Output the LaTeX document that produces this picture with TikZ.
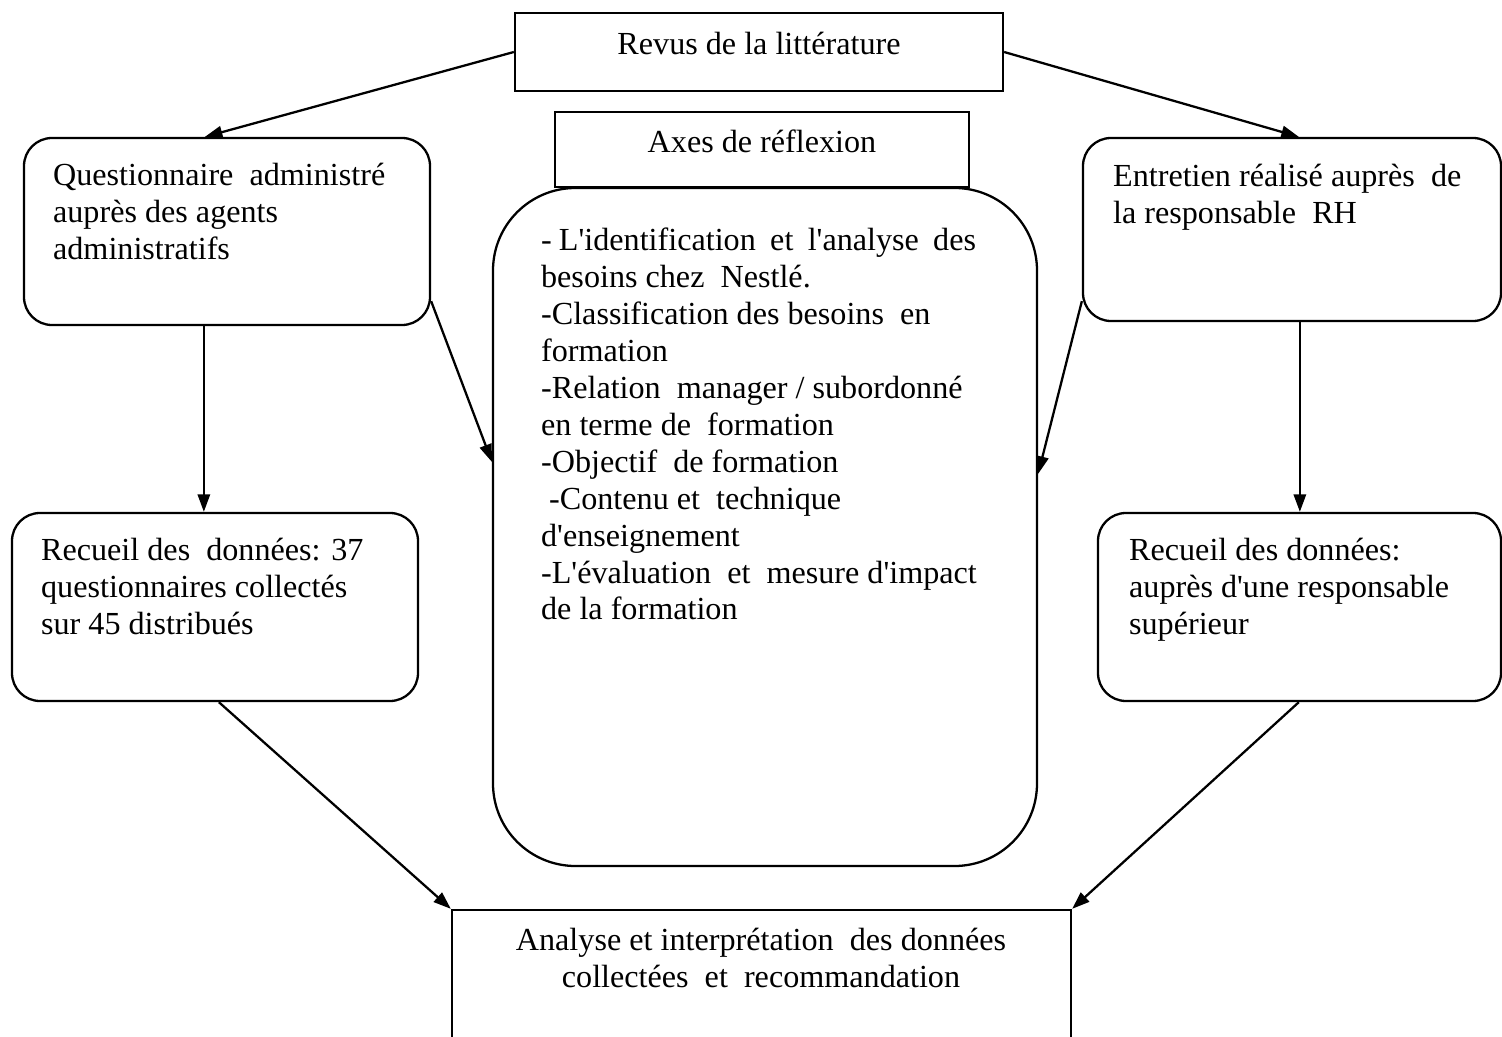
\documentclass[tikz,border=0pt]{standalone}
\usepackage{fontspec}
\setmainfont{Liberation Serif}
\usetikzlibrary{arrows.meta,fit,calc}
\newcommand\apos{\textquotesingle}
\begin{document}
\begin{tikzpicture}[x=0.02cm,y=-0.02cm,
  line width=1.3pt,
  sqbox/.style={draw, inner sep=0pt, fill=white},
  rbox/.style={draw, inner sep=0pt, rounded corners=0.56cm},
  bigbox/.style={draw, inner sep=0pt, rounded corners=1.65cm},
  txt/.style={inner sep=0pt, align=left, anchor=north west, font=\fontsize{18.3}{21}\selectfont},
  ctxt/.style={inner sep=0pt, align=center, anchor=north, font=\fontsize{18.3}{21}\selectfont},
  arr/.style={-{Triangle[length=10pt,width=7pt]}, line width=1.3pt}]
\useasboundingbox (0,0) rectangle (1502,1037);

% boxes
\node[sqbox, fit={(515,13) (1003,91)}] (rev) {};
\node[rbox, fit={(24,138) (430,325)}] (q) {};
\node[rbox, fit={(1083,138) (1501,321)}] (ent) {};
\node[bigbox, fit={(493,188) (1037,866)}] (ctr) {};
\node[sqbox, fit={(555,112) (969,187)}] (axes) {};
\node[rbox, fit={(12,513) (418,701)}] (rl) {};
\node[rbox, fit={(1098,513) (1501,701)}] (rr) {};
\node[sqbox, fit={(452,910) (1071,1060)}] (an) {};

% texts
\node[ctxt] (revT) at (759,28) {\strut Revus de la littérature};
\node[ctxt] (axesT) at (762,126) {\strut Axes de réflexion};
\node[txt] (qT) at (52,159) {\strut Questionnaire \ administré\\auprès des agents\\administratifs};
\node[txt] (entT) at (1112,160) {\strut Entretien réalisé auprès \ de\\la responsable \ RH};
\node[txt] (ctrT) at (540,224) {\strut\makebox[8.7cm][s]{- L\apos identification \ et \ l\apos analyse \ des}\\
besoins chez \ Nestlé.\\
-Classification des besoins \ en\\
formation\\
-Relation \ manager / subordonné\\
en terme de \ formation\\
-Objectif \ de formation\\
\ -Contenu et \ technique\\
d\apos enseignement\\
-L\apos évaluation \ et \ mesure d\apos impact\\
de la formation};
\node[txt] (rlT) at (40,534) {\strut Recueil des \ données: 37\\questionnaires collectés\\sur 45 distribués};
\node[txt] (rrT) at (1128,534) {\strut Recueil des données:\\auprès d\apos une responsable\\supérieur};
\node[ctxt] (anT) at (761,924) {\strut Analyse et interprétation \ des données\\collectées \ et \ recommandation};

% connectors
\coordinate (qa) at ($(q.south west)+(181,0)$);
\coordinate (ea) at ($(ent.south west)+(218,0)$);
\draw[arr] (rev.west) -- ($(q.north west)+(182,0)$);
\draw[arr] (rev.east) -- ($(ent.north west)+(217,0)$);
\draw[arr] (qa) -- (qa |- rl.north);
\draw[arr] ($(q.south east)+(0,-25)$) -- ($(ctr.north west)+(0,275)$);
\draw[arr] ($(ent.south west)+(0,-21)$) -- ($(ctr.north east)+(0,287)$);
\draw[arr] (ea) -- (ea |- rr.north);
\draw[arr] ($(rl.south west)+(208,0)$) -- (an.north west);
\draw[arr] ($(rr.south west)+(202,0)$) -- (an.north east);
\end{tikzpicture}
\end{document}
